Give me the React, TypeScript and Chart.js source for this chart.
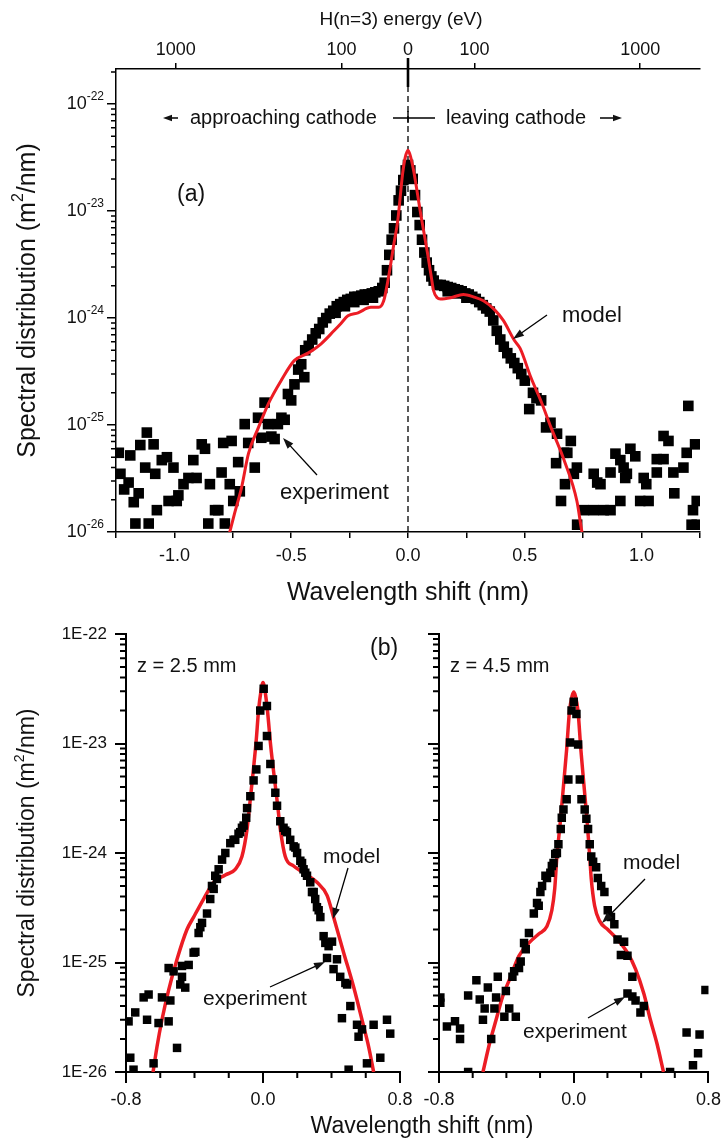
import React, { useEffect, useRef } from "react";
import { Chart, registerables } from "chart.js";
Chart.register(...registerables);

const FAM = '"Liberation Sans", Arial, Helvetica, sans-serif';
const INK = "#111";
const RED = "#ec1c24";

// ---------------- Panel (a) ----------------
const aExpShift = [
  -1.238, -1.231, -1.215, -1.196, -1.189, -1.174, -1.167, -1.153, -1.146, -1.125, -1.118, -1.11,
  -1.089, -1.082, -1.075, -1.054, -1.032, -1.025, -1.004, -0.99, -0.983, -0.961, -0.94, -0.919,
  -0.905, -0.883, -0.869, -0.855, -0.848, -0.826, -0.812, -0.798, -0.791, -0.784, -0.763, -0.755,
  -0.748, -0.727, -0.72, -0.699, -0.684, -0.656, -0.642, -0.628, -0.614, -0.599, -0.585, -0.571,
  -0.557, -0.542, -0.528, -0.514, -0.5, -0.486, -0.47, -0.457, -0.444, -0.44, -0.425, -0.41,
  -0.395, -0.38, -0.365, -0.35, -0.335, -0.32, -0.305, -0.29, -0.275, -0.26, -0.245, -0.23,
  -0.215, -0.2, -0.185, -0.17, -0.155, -0.14, -0.125, -0.11, -0.1, -0.09, -0.08, -0.07,
  -0.06, -0.05, -0.04, -0.03, -0.02, -0.01, 0, 0.01, 0.02, 0.03, 0.04, 0.05,
  0.06, 0.07, 0.08, 0.09, 0.1, 0.11, 0.125, 0.14, 0.155, 0.17, 0.185, 0.2,
  0.215, 0.23, 0.245, 0.26, 0.275, 0.29, 0.305, 0.32, 0.335, 0.35, 0.365, 0.38,
  0.395, 0.41, 0.425, 0.44, 0.455, 0.47, 0.485, 0.5, 0.519, 0.535, 0.55, 0.57,
  0.591, 0.61, 0.634, 0.638, 0.655, 0.668, 0.672, 0.682, 0.697, 0.71, 0.723, 0.724,
  0.753, 0.795, 0.795, 0.81, 0.824, 0.838, 0.867, 0.867, 0.888, 0.909, 0.909, 0.923,
  0.93, 0.937, 0.952, 0.973, 0.994, 1.009, 1.02, 1.03, 1.065, 1.065, 1.094, 1.094,
  1.115, 1.136, 1.14, 1.179, 1.193, 1.2, 1.214, 1.22, 1.229, 1.236, 1.236,
  -0.31, -0.27, -0.23, -0.19, -0.15, 0.17, 0.21, 0.25,
];
const aExpValue = [
  5.5e-26, 3.5e-26, 2.5e-26, 2.9e-26, 5.2e-26, 1.9e-26, 1.2e-26, 2.3e-26, 6.5e-26, 4.0e-26, 8.5e-26, 1.2e-26,
  6.6e-26, 3.5e-26, 1.6e-26, 4.7e-26, 5.0e-26, 1.95e-26, 4.0e-26, 1.95e-26, 2.2e-26, 2.8e-26, 3.2e-26, 4.7e-26,
  3.2e-26, 6.6e-26, 6.0e-26, 1.2e-26, 2.8e-26, 1.6e-26, 1.6e-26, 3.6e-26, 6.8e-26, 1.2e-26, 2.8e-26, 7.1e-26,
  1.95e-26, 4.5e-26, 2.4e-26, 1.02e-25, 6.8e-26, 4.0e-26, 1.17e-25, 7.6e-26, 1.62e-25, 1.02e-25, 7.8e-26, 7.4e-26,
  1.02e-25, 1.17e-25, 1.12e-25, 1.95e-25, 1.7e-25, 2.4e-25, 3.3e-25, 3.7e-25, 2.8e-25, 5.0e-25, 5.5e-25, 6.3e-25,
  7.2e-25, 7.9e-25, 9.1e-25, 1.0e-24, 1.1e-24, 1.17e-24, 1.29e-24, 1.35e-24, 1.41e-24, 1.48e-24, 1.51e-24, 1.58e-24,
  1.58e-24, 1.62e-24, 1.66e-24, 1.66e-24, 1.7e-24, 1.74e-24, 1.78e-24, 1.91e-24, 2.14e-24, 2.8e-24, 3.9e-24, 5.4e-24,
  6.9e-24, 9.1e-24, 1.26e-23, 1.55e-23, 1.95e-23, 2.4e-23, 2.7e-23, 2.4e-23, 2.0e-23, 1.41e-23, 9.8e-24, 7.4e-24,
  5.4e-24, 4.1e-24, 3.3e-24, 2.8e-24, 2.45e-24, 2.24e-24, 2.04e-24, 2.04e-24, 2.0e-24, 1.95e-24, 1.91e-24, 1.86e-24,
  1.82e-24, 1.78e-24, 1.7e-24, 1.66e-24, 1.58e-24, 1.51e-24, 1.41e-24, 1.32e-24, 1.23e-24, 1.15e-24, 9.5e-25, 7.6e-25,
  6.3e-25, 5.4e-25, 4.7e-25, 4.2e-25, 3.8e-25, 3.4e-25, 3.0e-25, 2.6e-25, 1.41e-25, 2.0e-25, 1.78e-25, 1.7e-25,
  9.5e-26, 1.05e-25, 4.4e-26, 8.3e-26, 1.95e-26, 5.5e-26, 2.8e-26, 5.5e-26, 7.1e-26, 3.5e-26, 4.0e-26, 1.17e-26,
  1.6e-26, 1.6e-26, 3.5e-26, 2.9e-26, 2.8e-26, 1.6e-26, 1.6e-26, 3.6e-26, 5.4e-26, 4.7e-26, 1.95e-26, 4.0e-26,
  3.2e-26, 3.5e-26, 6.0e-26, 5.1e-26, 1.95e-26, 3.2e-26, 2.8e-26, 1.95e-26, 3.6e-26, 4.8e-26, 4.8e-26, 7.9e-26,
  7.1e-26, 3.6e-26, 2.3e-26, 4.0e-26, 5.5e-26, 1.51e-25, 1.17e-26, 1.6e-26, 6.6e-26, 1.17e-26, 1.95e-26,
  1.12e-24, 1.29e-24, 1.41e-24, 1.48e-24, 1.55e-24, 1.78e-24, 1.7e-24, 1.55e-24,
];
const aModelShift = [
  -0.764, -0.743, -0.713, -0.683, -0.64, -0.598, -0.542, -0.487, -0.428, -0.372, -0.317, -0.287,
  -0.257, -0.214, -0.159, -0.125, -0.104, -0.09, -0.074, -0.06, -0.044, -0.023, -0.012, 0,
  0.012, 0.024, 0.054, 0.084, 0.1, 0.109, 0.125, 0.139, 0.182, 0.237, 0.28, 0.323,
  0.37, 0.408, 0.455, 0.48, 0.527, 0.57, 0.612, 0.668, 0.723, 0.744, 0.75,
];
const aModelValue = [
  9.8e-27, 1.48e-26, 2.57e-26, 5.4e-26, 9.5e-26, 1.58e-25, 2.63e-25, 4.0e-25, 4.7e-25, 5.75e-25, 7.6e-25, 8.9e-25,
  1.05e-24, 1.12e-24, 1.26e-24, 1.26e-24, 1.45e-24, 2.0e-24, 3.2e-24, 5.0e-24, 8.1e-24, 2.24e-23, 3.16e-23, 3.7e-23,
  3.16e-23, 2.4e-23, 9.5e-24, 4.0e-24, 2.4e-24, 1.82e-24, 1.55e-24, 1.51e-24, 1.55e-24, 1.66e-24, 1.58e-24, 1.45e-24,
  1.2e-24, 9.5e-25, 6.2e-25, 5.2e-25, 2.75e-25, 1.66e-25, 9.5e-26, 4.7e-26, 1.95e-26, 1.02e-26, 8.9e-27,
];
const aShiftMin = -1.25;
const aShiftMax = 1.25;
const aValueMin = 1e-26;
const aValueMax = 2.13e-22;
const aShiftTicks = [-1.25, -1, -0.75, -0.5, -0.25, 0, 0.25, 0.5, 0.75, 1, 1.25];
const aShiftLabels = ["", "-1.0", "", "-0.5", "", "0.0", "", "0.5", "", "1.0", ""];
const aDecades = [1e-26, 1e-25, 1e-24, 1e-23, 1e-22];
const aDecadeExponents = ["-26", "-25", "-24", "-23", "-22"];
const energyTickShift = [-0.994, -0.285, 0, 0.285, 0.994];
const energyTickLabels = ["1000", "100", "0", "100", "1000"];
const zeroLineShift = [0, 0];
const zeroLineValue = [aValueMin, aValueMax];

// ---------------- Panel (b), z = 2.5 mm ----------------
const b1ExpShift = [
  -0.785, -0.775, -0.756, -0.746, -0.697, -0.677, -0.668, -0.639, -0.61, -0.59, -0.551, -0.551,
  -0.541, -0.522, -0.502, -0.483, -0.473, -0.473, -0.454, -0.434, -0.405, -0.395, -0.376, -0.366,
  -0.356, -0.327, -0.308, -0.298, -0.288, -0.279, -0.269, -0.259, -0.239, -0.22, -0.191, -0.172,
  -0.162, -0.143, -0.133, -0.123, -0.113, -0.098, -0.093, -0.074, -0.055, -0.039, -0.026, -0.016,
  0.004, 0.023, 0.023, 0.043, 0.058, 0.072, 0.082, 0.101, 0.12, 0.13, 0.14, 0.159,
  0.179, 0.189, 0.199, 0.218, 0.228, 0.237, 0.247, 0.257, 0.276, 0.286, 0.296, 0.305,
  0.315, 0.325, 0.335, 0.354, 0.364, 0.374, 0.383, 0.403, 0.412, 0.432, 0.451, 0.461,
  0.481, 0.491, 0.5, 0.51, 0.549, 0.558, 0.578, 0.607, 0.646, 0.685, 0.724, 0.743,
];
const b1ExpValue = [
  2.9e-26, 1.35e-26, 1.05e-26, 3.5e-26, 4.8e-26, 3.0e-26, 5.1e-26, 1.2e-26, 2.8e-26, 4.8e-26, 8.9e-26, 2.9e-26,
  4.5e-26, 8.3e-26, 1.66e-26, 6.3e-26, 9.3e-26, 7.4e-26, 5.9e-26, 9.5e-26, 1.23e-25, 1.25e-25, 1.86e-25, 2.1e-25,
  2.3e-25, 2.8e-25, 3.8e-25, 5.0e-25, 4.7e-25, 6.2e-25, 5.8e-25, 7.1e-25, 8.7e-25, 1.0e-24, 1.23e-24, 1.32e-24,
  1.32e-24, 1.5e-24, 1.55e-24, 1.7e-24, 1.78e-24, 2.1e-24, 2.57e-24, 3.3e-24, 4.6e-24, 5.8e-24, 9.5e-24, 2.0e-23,
  3.16e-23, 2.2e-23, 1.17e-23, 6.5e-24, 4.7e-24, 3.55e-24, 2.7e-24, 1.95e-24, 1.7e-24, 1.6e-24, 1.55e-24, 1.32e-24,
  1.15e-24, 1.12e-24, 1.0e-24, 8.5e-25, 8.1e-25, 7.1e-25, 6.6e-25, 6.2e-25, 5.4e-25, 4.4e-25, 4.4e-25, 3.8e-25,
  3.2e-25, 3.0e-25, 2.6e-25, 1.74e-25, 1.51e-25, 1.1e-25, 1.41e-25, 1.55e-25, 8.7e-26, 1.07e-25, 7.4e-26, 3.1e-26,
  6.5e-26, 6.3e-26, 1.05e-26, 4.0e-26, 2.7e-26, 2.1e-26, 2.45e-26, 1.2e-26, 2.7e-26, 1.35e-26, 3.0e-26, 2.24e-26,
];
const b1ModelShift = [
  -0.642, -0.619, -0.59, -0.551, -0.502, -0.444, -0.405, -0.347, -0.288, -0.22, -0.162, -0.123,
  -0.093, -0.075, -0.055, -0.04, -0.026, -0.012, 0, 0.012, 0.026, 0.045, 0.072, 0.087,
  0.101, 0.13, 0.179, 0.237, 0.315, 0.374, 0.412, 0.471, 0.529, 0.578, 0.617, 0.646,
];
const b1ModelValue = [
  1.0e-26, 1.7e-26, 3.0e-26, 5.6e-26, 1.07e-25, 2.0e-25, 2.6e-25, 3.8e-25, 5.4e-25, 6.3e-25, 7.1e-25, 9.3e-25,
  1.66e-24, 3.0e-24, 6.0e-24, 1.05e-23, 2.0e-23, 3.0e-23, 3.6e-23, 3.0e-23, 2.0e-23, 9.5e-24, 4.1e-24, 2.6e-24,
  1.66e-24, 9.3e-25, 7.6e-25, 6.6e-25, 5.4e-25, 4.1e-25, 2.6e-25, 1.23e-25, 6.0e-26, 3.0e-26, 1.7e-26, 1.0e-26,
];

// ---------------- Panel (b), z = 4.5 mm ----------------
const b2ExpShift = [
  -0.792, -0.792, -0.753, -0.705, -0.675, -0.675, -0.627, -0.627, -0.578, -0.558, -0.539, -0.529,
  -0.51, -0.49, -0.471, -0.461, -0.451, -0.412, -0.403, -0.383, -0.364, -0.354, -0.344, -0.325,
  -0.315, -0.295, -0.285, -0.266, -0.237, -0.218, -0.208, -0.198, -0.188, -0.168, -0.159, -0.139,
  -0.13, -0.12, -0.11, -0.1, -0.091, -0.077, -0.071, -0.061, -0.042, -0.032, -0.022, -0.013,
  0, 0.016, 0.026, 0.036, 0.046, 0.065, 0.075, 0.085, 0.095, 0.104, 0.115, 0.133,
  0.143, 0.163, 0.182, 0.202, 0.221, 0.241, 0.26, 0.28, 0.299, 0.319, 0.319, 0.348,
  0.348, 0.367, 0.396, 0.416, 0.572, 0.67, 0.708, 0.738, 0.747, 0.782,
];
const b2ExpValue = [
  4.8e-26, 4.3e-26, 2.6e-26, 2.9e-26, 2.5e-26, 2.0e-26, 5.0e-26, 1.0e-26, 6.9e-26, 4.6e-26, 3.0e-26, 3.8e-26,
  5.9e-26, 2.0e-26, 3.8e-26, 4.8e-26, 7.4e-26, 3.2e-26, 5.5e-26, 3.8e-26, 7.4e-26, 8.3e-26, 3.2e-26, 8.9e-26,
  1.02e-25, 1.51e-25, 1.32e-25, 1.86e-25, 2.8e-25, 3.5e-25, 3.3e-25, 4.4e-25, 5.0e-25, 6.2e-25, 5.9e-25, 6.6e-25,
  7.6e-25, 8.1e-25, 9.8e-25, 1.0e-24, 1.2e-24, 1.66e-24, 2.1e-24, 2.5e-24, 3.1e-24, 4.7e-24, 1.02e-23, 2.0e-23,
  2.4e-23, 1.86e-23, 9.8e-24, 4.7e-24, 3.1e-24, 2.5e-24, 2.05e-24, 1.66e-24, 1.2e-24, 9.3e-25, 8.3e-25, 7.4e-25,
  5.9e-25, 5.0e-25, 4.4e-25, 3.0e-25, 2.6e-25, 2.24e-25, 1.62e-25, 1.17e-25, 1.55e-25, 1.15e-25, 5.2e-26, 7.4e-26,
  4.9e-26, 4.5e-26, 3.5e-26, 4.0e-26, 1.0e-26, 2.3e-26, 1.15e-26, 1.48e-26, 2.2e-26, 5.6e-26,
];
const b2ModelShift = [
  -0.539, -0.5, -0.461, -0.422, -0.383, -0.325, -0.266, -0.208, -0.159, -0.13, -0.113, -0.1,
  -0.08, -0.061, -0.042, -0.025, -0.01, 0, 0.01, 0.025, 0.042, 0.061, 0.08, 0.095,
  0.104, 0.124, 0.153, 0.202, 0.26, 0.319, 0.367, 0.416, 0.455, 0.494, 0.533,
];
const b2ModelValue = [
  1.0e-26, 1.82e-26, 3.0e-26, 4.9e-26, 6.9e-26, 1.15e-25, 1.51e-25, 1.82e-25, 2.14e-25, 3.0e-25, 4.7e-25, 9.3e-25,
  1.9e-24, 4.1e-24, 8.9e-24, 2.0e-23, 2.7e-23, 2.95e-23, 2.7e-23, 2.0e-23, 8.9e-24, 4.1e-24, 1.9e-24, 9.3e-25,
  5.8e-25, 3.3e-25, 2.4e-25, 2.0e-25, 1.62e-25, 1.23e-25, 8.7e-26, 5.2e-26, 3.0e-26, 1.82e-26, 1.0e-26,
];

const bShiftMin = -0.8;
const bShiftMax = 0.8;
const bValueMin = 1e-26;
const bValueMax = 1e-22;
const bShiftMajor = [-0.8, 0, 0.8];
const bShiftMajorLabels = ["-0.8", "0.0", "0.8"];
const bShiftMinor = [-0.6, -0.4, -0.2, 0.2, 0.4, 0.6];
const bDecades = [1e-26, 1e-25, 1e-24, 1e-23, 1e-22];
const bDecadeLabels = ["1E-26", "1E-25", "1E-24", "1E-23", "1E-22"];

// ---------------- helpers ----------------
const pts = (xs: number[], ys: number[]) => xs.map((x, i) => ({ x, y: ys[i] }));

function text(ctx: CanvasRenderingContext2D, s: string, x: number, y: number, size: number, align: CanvasTextAlign = "left") {
  ctx.font = `${size}px ${FAM}`;
  ctx.textAlign = align;
  ctx.textBaseline = "alphabetic";
  ctx.fillText(s, x, y);
}

function arrow(ctx: CanvasRenderingContext2D, x1: number, y1: number, x2: number, y2: number, head = 11, half = 3.8, lw = 1.3) {
  const a = Math.atan2(y2 - y1, x2 - x1);
  const c = Math.cos(a), s = Math.sin(a);
  ctx.lineWidth = lw;
  ctx.beginPath();
  ctx.moveTo(x1, y1);
  ctx.lineTo(x2 - c * head * 0.7, y2 - s * head * 0.7);
  ctx.stroke();
  ctx.beginPath();
  ctx.moveTo(x2, y2);
  ctx.lineTo(x2 - c * head - s * half, y2 - s * head + c * half);
  ctx.lineTo(x2 - c * head + s * half, y2 - s * head - c * half);
  ctx.closePath();
  ctx.fill();
}

function yTitle(ctx: CanvasRenderingContext2D, cx: number, cy: number, size: number) {
  const parts: [string, boolean][] = [["Spectral distribution (m", false], ["2", true], ["/nm)", false]];
  ctx.save();
  ctx.translate(cx, cy);
  ctx.rotate(-Math.PI / 2);
  ctx.textBaseline = "middle";
  ctx.textAlign = "left";
  const widths = parts.map(([s, sup]) => {
    ctx.font = `${sup ? Math.round(size * 0.62) : size}px ${FAM}`;
    return ctx.measureText(s).width;
  });
  let x = -widths.reduce((p, w) => p + w, 0) / 2;
  parts.forEach(([s, sup], i) => {
    ctx.font = `${sup ? Math.round(size * 0.62) : size}px ${FAM}`;
    ctx.fillText(s, x, sup ? -size * 0.36 : 0);
    x += widths[i];
  });
  ctx.restore();
}

function logMinorTicks(ctx: CanvasRenderingContext2D, scale: any, len: number, lw: number) {
  const x = scale.right;
  ctx.lineWidth = lw;
  ctx.beginPath();
  const e0 = Math.floor(Math.log10(scale.min) + 1e-9);
  const e1 = Math.ceil(Math.log10(scale.max) - 1e-9);
  for (let e = e0; e <= e1; e++) {
    for (let m = 2; m <= 9; m++) {
      const v = m * Math.pow(10, e);
      if (v < scale.min || v > scale.max) continue;
      const y = scale.getPixelForValue(v);
      ctx.moveTo(x - len, y);
      ctx.lineTo(x, y);
    }
  }
  ctx.stroke();
}

function xMinorTicks(ctx: CanvasRenderingContext2D, scale: any, values: number[], len: number, lw: number) {
  const y = scale.top;
  ctx.lineWidth = lw;
  ctx.beginPath();
  values.forEach((v) => {
    const x = scale.getPixelForValue(v);
    ctx.moveTo(x, y);
    ctx.lineTo(x, y + len);
  });
  ctx.stroke();
}

const commonOptions = {
  responsive: false,
  animation: false as const,
  devicePixelRatio: 1,
  events: [] as any[],
  plugins: { legend: { display: false }, tooltip: { enabled: false } },
};

// ---------------- Panel (a) config ----------------
const annA = {
  id: "annA",
  afterDraw(chart: any) {
    const ctx: CanvasRenderingContext2D = chart.ctx;
    const xs = chart.scales.x;
    const ys = chart.scales.y;
    const area = chart.chartArea;
    ctx.save();
    ctx.fillStyle = INK;
    ctx.strokeStyle = "#000";
    logMinorTicks(ctx, ys, 5, 1.5);
    aDecades.forEach((v, i) => {
      const py = ys.getPixelForValue(v);
      const right = area.left - 12;
      ctx.textBaseline = "middle";
      ctx.textAlign = "right";
      ctx.font = `12px ${FAM}`;
      const sw = ctx.measureText(aDecadeExponents[i]).width;
      ctx.fillText(aDecadeExponents[i], right, py - 7);
      ctx.font = `18px ${FAM}`;
      ctx.fillText("10", right - sw, py);
    });
    const x0 = xs.getPixelForValue(0);
    ctx.lineWidth = 2.6;
    ctx.beginPath();
    ctx.moveTo(x0, area.top - 11);
    ctx.lineTo(x0, area.top + 18);
    ctx.stroke();
    text(ctx, "H(n=3) energy (eV)", 401, 25, 19, "center");
    text(ctx, "Wavelength shift (nm)", 408, 600, 25, "center");
    yTitle(ctx, 28, (area.top + area.bottom) / 2, 25);
    text(ctx, "approaching cathode", 190, 124, 20);
    text(ctx, "leaving cathode", 446, 124, 20);
    arrow(ctx, 178, 118, 163, 118, 9, 3.2, 1.5);
    arrow(ctx, 600, 118, 622, 118, 9, 3.2, 1.5);
    ctx.lineWidth = 1.4;
    ctx.beginPath();
    ctx.moveTo(393, 118);
    ctx.lineTo(435, 118);
    ctx.moveTo(x0, 111);
    ctx.lineTo(x0, 123);
    ctx.stroke();
    text(ctx, "(a)", 177, 201, 23);
    text(ctx, "model", 562, 322, 22);
    arrow(ctx, 547, 315, 513, 339);
    text(ctx, "experiment", 280, 499, 22);
    arrow(ctx, 317, 475, 283, 438);
    ctx.restore();
  },
};

function configA(): any {
  const tickFont = { family: FAM, size: 18 };
  const grid = { drawOnChartArea: false, drawTicks: true, tickLength: 6, color: "#000", lineWidth: 1.5 };
  const border = { display: true, color: "#000", width: 1.5 };
  return {
    type: "scatter",
    data: {
      datasets: [
        {
          label: "model",
          data: pts(aModelShift, aModelValue),
          showLine: true,
          borderColor: RED,
          borderWidth: 3,
          pointRadius: 0,
          cubicInterpolationMode: "monotone",
          order: 0,
        },
        {
          label: "experiment",
          data: pts(aExpShift, aExpValue),
          showLine: false,
          pointStyle: "rect",
          pointRadius: 7.5,
          pointHoverRadius: 7.5,
          pointBackgroundColor: "#000",
          pointBorderColor: "#000",
          pointBorderWidth: 0,
          order: 1,
        },
        {
          label: "zero",
          data: pts(zeroLineShift, zeroLineValue),
          showLine: true,
          borderColor: "#000",
          borderWidth: 1.3,
          borderDash: [6, 4],
          pointRadius: 0,
          order: 2,
        },
      ],
    },
    options: {
      ...commonOptions,
      layout: { padding: { left: 0, right: 27, top: 0, bottom: 542 } },
      scales: {
        x: {
          type: "linear",
          position: "bottom",
          min: aShiftMin,
          max: aShiftMax,
          bounds: "data",
          afterBuildTicks: (s: any) => { s.ticks = aShiftTicks.map((value) => ({ value })); },
          afterFit: (s: any) => { s.height = 68; },
          ticks: { autoSkip: false, maxRotation: 0, padding: 7, color: INK, font: tickFont, callback: (_v: any, i: number) => aShiftLabels[i] },
          grid,
          border,
        },
        x2: {
          type: "linear",
          position: "top",
          min: aShiftMin,
          max: aShiftMax,
          bounds: "data",
          afterBuildTicks: (s: any) => { s.ticks = energyTickShift.map((value) => ({ value })); },
          afterFit: (s: any) => { s.height = 69; },
          ticks: { autoSkip: false, maxRotation: 0, padding: 2, color: INK, font: tickFont, callback: (_v: any, i: number) => energyTickLabels[i] },
          grid,
          border,
        },
        y: {
          type: "logarithmic",
          position: "left",
          min: aValueMin,
          max: aValueMax,
          bounds: "data",
          afterBuildTicks: (s: any) => { s.ticks = aDecades.map((value) => ({ value })); },
          afterFit: (s: any) => { s.width = 116; },
          ticks: { display: false },
          grid: { ...grid, tickLength: 9 },
          border,
        },
      },
    },
    plugins: [annA],
  };
}

// ---------------- Panel (b) configs ----------------
function configB(which: 1 | 2): any {
  const first = which === 1;
  const tickFont = { family: FAM, size: 18 };
  const grid = { drawOnChartArea: false, drawTicks: true, tickLength: 11, color: "#000", lineWidth: 2 };
  const border = { display: true, color: "#000", width: 2 };
  const expShift = first ? b1ExpShift : b2ExpShift;
  const expValue = first ? b1ExpValue : b2ExpValue;
  const modShift = first ? b1ModelShift : b2ModelShift;
  const modValue = first ? b1ModelValue : b2ModelValue;
  const ann = {
    id: first ? "annB1" : "annB2",
    afterDraw(chart: any) {
      const ctx: CanvasRenderingContext2D = chart.ctx;
      const area = chart.chartArea;
      ctx.save();
      ctx.fillStyle = INK;
      ctx.strokeStyle = "#000";
      logMinorTicks(ctx, chart.scales.y, 6, 2);
      xMinorTicks(ctx, chart.scales.x, bShiftMinor, 6, 2);
      if (first) {
        yTitle(ctx, 28, (area.top + area.bottom) / 2, 23);
        text(ctx, "Wavelength shift (nm)", 422, 1133, 23, "center");
        text(ctx, "(b)", 370, 655, 23);
        text(ctx, "z = 2.5 mm", 137, 672, 20);
        text(ctx, "model", 323, 863, 21);
        arrow(ctx, 348, 868, 333, 919);
        text(ctx, "experiment", 203, 1005, 21);
        arrow(ctx, 270, 987, 325, 962);
      } else {
        text(ctx, "z = 4.5 mm", 450, 672, 20);
        text(ctx, "model", 623, 869, 21);
        arrow(ctx, 645, 879, 602, 923);
        text(ctx, "experiment", 523, 1038, 21);
        arrow(ctx, 588, 1018, 625, 997);
      }
      ctx.restore();
    },
  };
  return {
    type: "scatter",
    data: {
      datasets: [
        {
          label: "experiment",
          data: pts(expShift, expValue),
          showLine: false,
          pointStyle: "rect",
          pointRadius: 6,
          pointHoverRadius: 6,
          pointBackgroundColor: "#000",
          pointBorderColor: "#000",
          pointBorderWidth: 0,
          order: 0,
        },
        {
          label: "model",
          data: pts(modShift, modValue),
          showLine: true,
          borderColor: RED,
          borderWidth: 3.5,
          pointRadius: 0,
          cubicInterpolationMode: "monotone",
          order: 1,
        },
      ],
    },
    options: {
      ...commonOptions,
      layout: { padding: first ? { left: 0, right: 327, top: 634, bottom: 0 } : { left: 420, right: 15, top: 634, bottom: 0 } },
      scales: {
        x: {
          type: "linear",
          position: "bottom",
          min: bShiftMin,
          max: bShiftMax,
          bounds: "data",
          afterBuildTicks: (s: any) => { s.ticks = bShiftMajor.map((value) => ({ value })); },
          afterFit: (s: any) => { s.height = 70; },
          ticks: { autoSkip: false, maxRotation: 0, padding: 6, color: INK, font: tickFont, callback: (_v: any, i: number) => bShiftMajorLabels[i] },
          grid,
          border,
        },
        y: {
          type: "logarithmic",
          position: "left",
          min: bValueMin,
          max: bValueMax,
          bounds: "data",
          afterBuildTicks: (s: any) => { s.ticks = bDecades.map((value) => ({ value })); },
          afterFit: (s: any) => { s.width = first ? 126 : 19; },
          ticks: {
            display: first,
            padding: 8,
            color: INK,
            font: { family: FAM, size: 17 },
            callback: (_v: any, i: number) => bDecadeLabels[i],
          },
          grid,
          border,
        },
      },
    },
    plugins: [ann],
  };
}

export default function App() {
  const refA = useRef<HTMLCanvasElement>(null);
  const refB1 = useRef<HTMLCanvasElement>(null);
  const refB2 = useRef<HTMLCanvasElement>(null);

  useEffect(() => {
    const charts = [
      new Chart(refA.current as HTMLCanvasElement, configA()),
      new Chart(refB1.current as HTMLCanvasElement, configB(1)),
      new Chart(refB2.current as HTMLCanvasElement, configB(2)),
    ];
    return () => charts.forEach((c) => c.destroy());
  }, []);

  const cs: React.CSSProperties = { position: "absolute", left: 0, top: 0, width: 727, height: 1142 };
  return (
    <div style={{ position: "absolute", left: 0, top: 0, width: 727, height: 1142, background: "#fff", overflow: "hidden" }}>
      <canvas ref={refA} width={727} height={1142} style={cs} />
      <canvas ref={refB1} width={727} height={1142} style={cs} />
      <canvas ref={refB2} width={727} height={1142} style={cs} />
    </div>
  );
}
